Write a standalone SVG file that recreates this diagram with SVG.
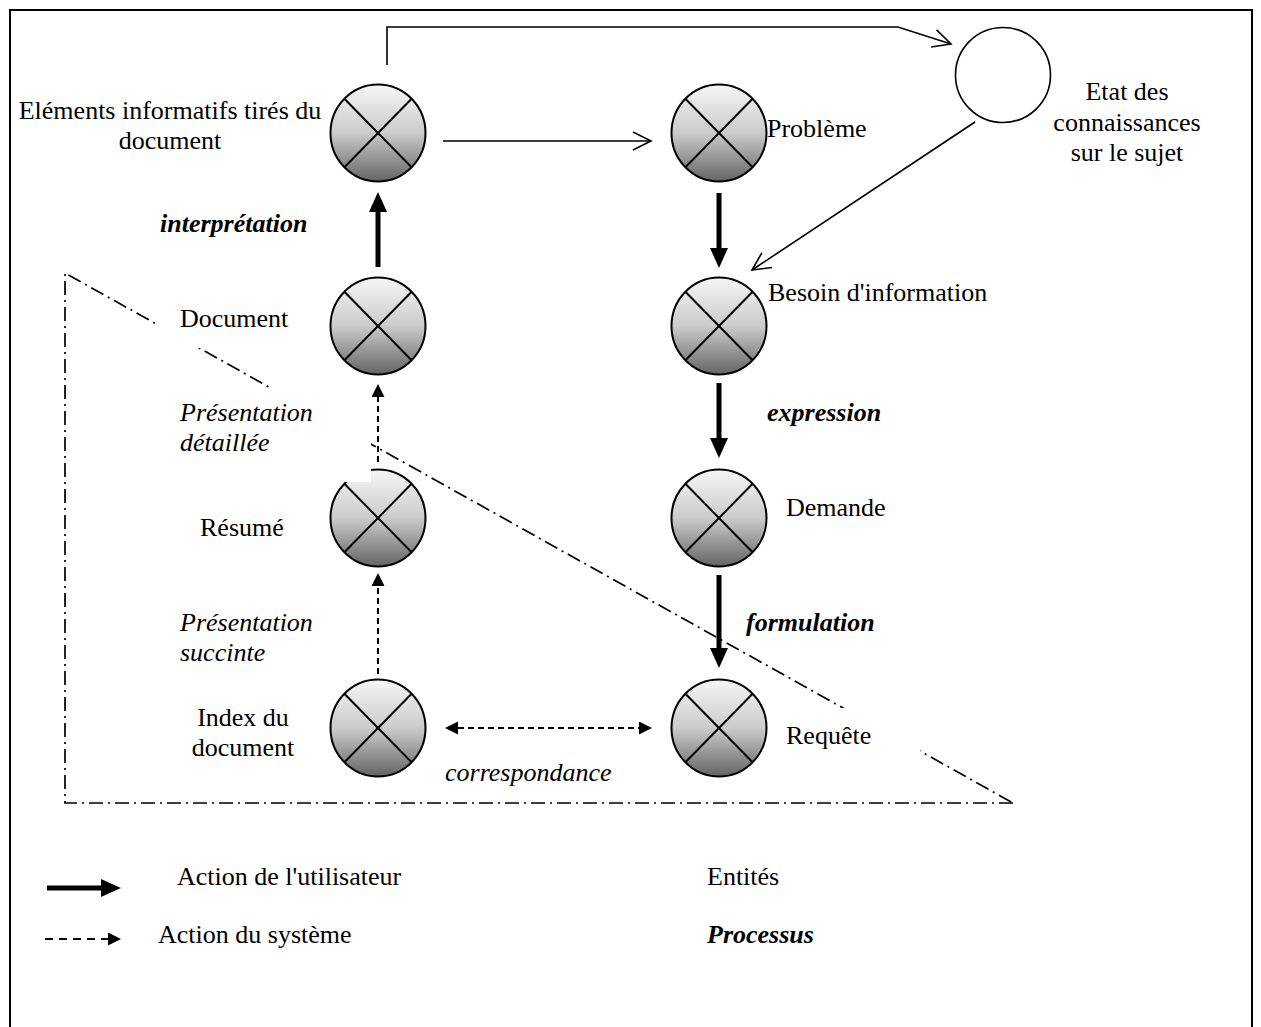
<svg xmlns="http://www.w3.org/2000/svg" width="1261" height="1027" viewBox="0 0 1261 1027">
<style>
text{font-family:"Liberation Serif","Times New Roman",serif;font-size:26px;fill:#000}
.it{font-style:italic}
.bi{font-style:italic;font-weight:bold}
.mid{text-anchor:middle}
.node{fill:url(#grad);stroke:#000;stroke-width:2}
.xl{stroke:#000;stroke-width:2}
.thick{stroke:#000;stroke-width:5;fill:none;marker-end:url(#head-big)}
.dash{stroke:#000;stroke-width:2;fill:none;stroke-dasharray:6 4}
.thin{stroke:#000;stroke-width:1.6;fill:none;marker-end:url(#head-open)}
.dd{stroke:#000;stroke-width:1.7;fill:none;stroke-dasharray:14 5 2 5}
.mask{fill:#fff;stroke:none}
</style>
<defs>
<linearGradient id="grad" x1="0" y1="0" x2="0" y2="1">
<stop offset="0" stop-color="#f6f6f6"/>
<stop offset="0.5" stop-color="#cbcbcb"/>
<stop offset="1" stop-color="#646464"/>
</linearGradient>
<marker id="head-big" markerUnits="userSpaceOnUse" markerWidth="20" markerHeight="18" refX="0" refY="9" orient="auto">
<path d="M0,0 L20,9 L0,18 z" fill="#000"/>
</marker>
<marker id="head-small" markerUnits="userSpaceOnUse" markerWidth="13" markerHeight="13" refX="0" refY="6.5" orient="auto">
<path d="M0,0 L13,6.5 L0,13 z" fill="#000"/>
</marker>
<marker id="head-open" markerUnits="userSpaceOnUse" markerWidth="22" markerHeight="20" refX="20" refY="10" orient="auto">
<path d="M2,1 L20,10 L2,19" fill="none" stroke="#000" stroke-width="1.6"/>
</marker>
<g id="xnode">
<ellipse cx="0" cy="0" rx="47.5" ry="48.5" class="node"/>
<line x1="-33.6" y1="-34.3" x2="33.6" y2="34.3" class="xl"/>
<line x1="33.6" y1="-34.3" x2="-33.6" y2="34.3" class="xl"/>
</g>
</defs>
<rect x="10" y="10" width="1242" height="1040" fill="#fff" stroke="#000" stroke-width="2"/>
<g id="boundary">
<path d="M1013,803 L65,803 L65,273 L1013,803" class="dd"/>
</g>
<g id="n-elements">
<use href="#xnode" x="378" y="133"/>
<text x="170" y="119" class="mid">Eléments informatifs tirés du</text>
<text x="170" y="149" class="mid">document</text>
</g>
<g id="n-probleme">
<use href="#xnode" x="719" y="133"/>
<text x="767" y="137">Problème</text>
</g>
<g id="n-etat">
<ellipse cx="1003" cy="75" rx="47.5" ry="47.5" fill="#fff" stroke="#000" stroke-width="1.6"/>
<text x="1127" y="100" class="mid">Etat des</text>
<text x="1127" y="131" class="mid">connaissances</text>
<text x="1127" y="161" class="mid">sur le sujet</text>
</g>
<g id="n-document">
<use href="#xnode" x="378" y="326"/>
<rect x="155" y="300" width="140" height="48" class="mask"/>
<text x="180" y="327">Document</text>
</g>
<g id="n-besoin">
<use href="#xnode" x="719" y="326"/>
<text x="768" y="301">Besoin d'information</text>
</g>
<g id="n-resume">
<use href="#xnode" x="378" y="518"/>
<text x="200" y="536">Résumé</text>
</g>
<g id="n-demande">
<use href="#xnode" x="719" y="518"/>
<text x="786" y="516">Demande</text>
</g>
<g id="n-index">
<use href="#xnode" x="378" y="728"/>
<text x="243" y="726" class="mid">Index du</text>
<text x="243" y="756" class="mid">document</text>
</g>
<g id="n-requete">
<use href="#xnode" x="719" y="728"/>
<rect x="775" y="708" width="145" height="55" class="mask"/>
<text x="786" y="744">Requête</text>
</g>
<g id="processes">
<text x="160" y="232" class="bi">interprétation</text>
<rect x="172" y="388" width="199" height="94" class="mask"/>
<text x="180" y="421" class="it">Présentation</text>
<text x="180" y="451" class="it">détaillée</text>
<text x="767" y="421" class="bi">expression</text>
<text x="180" y="631" class="it">Présentation</text>
<text x="180" y="661" class="it">succinte</text>
<text x="746" y="631" class="bi">formulation</text>
<text x="445" y="781" class="it">correspondance</text>
</g>
<g id="connectors">
<polyline points="387,65 387,27 898,27 951,44" class="thin"/>
<line x1="443" y1="141" x2="651" y2="141" class="thin"/>
<line x1="975" y1="122" x2="752" y2="270" class="thin"/>
<line x1="378" y1="267" x2="378" y2="212" class="thick"/>
<line x1="719" y1="193" x2="719" y2="248" class="thick"/>
<line x1="719" y1="383" x2="719" y2="438" class="thick"/>
<line x1="719" y1="575" x2="719" y2="648" class="thick"/>
<line x1="378" y1="462" x2="378" y2="397" class="dash" marker-end="url(#head-small)"/>
<line x1="378" y1="674" x2="378" y2="586" class="dash" marker-end="url(#head-small)"/>
<line x1="458" y1="728" x2="639" y2="728" class="dash" marker-start="url(#head-small-rev)" marker-end="url(#head-small)"/>
<path d="M458,721.5 L445,728 L458,734.5 z" fill="#000"/>
</g>
<g id="legend">
<line x1="47" y1="888" x2="101" y2="888" class="thick"/>
<text x="177" y="885">Action de l'utilisateur</text>
<line x1="45" y1="939" x2="108" y2="939" stroke="#000" stroke-width="2" stroke-dasharray="8 6" marker-end="url(#head-small)"/>
<text x="158" y="943">Action du système</text>
<text x="707" y="885">Entités</text>
<text x="707" y="943" class="bi">Processus</text>
</g>
</svg>
